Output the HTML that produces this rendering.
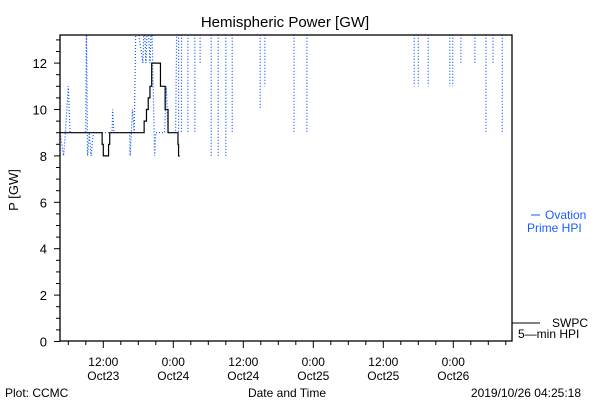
<!DOCTYPE html>
<html><head><meta charset="utf-8"><style>
body{margin:0;background:#fff;}
svg{display:block;font-family:"Liberation Sans",sans-serif;}
</style></head><body>
<svg id="chart" width="600" height="400">
<text x="285" y="27" font-size="15" text-anchor="middle">Hemispheric Power [GW]</text>
<text transform="translate(18,190) rotate(-90)" font-size="13" text-anchor="middle">P [GW]</text>
<text x="5" y="397" font-size="12">Plot: CCMC</text>
<text x="287" y="397" font-size="12" text-anchor="middle">Date and Time</text>
<text x="581" y="397" font-size="12" text-anchor="end">2019/10/26 04:25:18</text>
<defs><clipPath id="clip"><rect x="60" y="35" width="452" height="306"/></clipPath></defs>
<g id="ticks"></g>
<g id="series" clip-path="url(#clip)"></g>
<rect x="60" y="35" width="452" height="306" fill="none" stroke="#000" stroke-width="1.3"/>
<g>
<line x1="531" y1="215" x2="540" y2="215" stroke="#1a5cff" stroke-width="1"/>
<text x="545" y="219" font-size="12" fill="#1a5cff">Ovation</text>
<text x="527" y="232" font-size="12" fill="#1a5cff">Prime HPI</text>
</g>
<g>
<line x1="512" y1="323" x2="540" y2="323" stroke="#000" stroke-width="1"/>
<text x="552" y="327" font-size="12">SWPC</text>
<text x="518" y="338" font-size="12">5—min HPI</text>
</g>
</svg>
<script>
const yTickValues=[0,2,4,6,8,10,12];
const xTickHours=[12,24,36,48,60,72];
const xTickTimes=["12:00","0:00","12:00","0:00","12:00","0:00"];
const xTickDates=["Oct23","Oct24","Oct24","Oct25","Oct25","Oct26"];
const swpcHours=[4.6,11.8,12.0,12.9,13.1,19.0,19.4,19.7,20.0,20.3,21.8,22.6,23.1,24.8,24.9,25.1];
const swpcValues=[9,8.5,8,8.5,9,9.5,10,10.5,11,12,11,10,9,8.5,8,8];
const ovHours=[4.6,5.2,5.5,6.0,6.3,9.0,9.1,9.3,9.6,9.9,10.3,13.5,13.6,13.8,16.5,16.6,17.0,17.3,17.6,18.8,19.0,19.3,19.6,20.0,20.3,20.8,21.0,22.5,22.8,23.1,24.4,24.6];
const ovValues=[9,8,9,11,9,9,14,8,9,8,9,9,10,9,9,8,10,9,14,12,14,12,14,12,14,8,9,9,11,9,9,14];
const dipHours=[24.9,25.4,26.5,27.7,28.6,30.5,31.7,33.0,34.1,38.9,39.7,44.7,46.9,65.3,66.0,67.7,71.4,71.9,73.3,75.7,77.6,78.8,80.4];
const dipLows=[9,9,9,9,12,8,8,8,9,10,11,9,9,11,11,11,11,11,12,12,9,12,9];
const NS="http://www.w3.org/2000/svg";
function X(h){return 33.3+h*70/12;}
function Y(v){return 341.5-v*23.2;}
function mk(tag,attrs,parent){const e=document.createElementNS(NS,tag);for(const k in attrs)e.setAttribute(k,attrs[k]);parent.appendChild(e);return e;}
const tg=document.getElementById('ticks');
for(let v=0;v<=13;v+=0.5){
  const major=yTickValues.includes(v);
  const t=mk('line',{x1:60-(major?6:4),x2:60,y1:Y(v),y2:Y(v),stroke:'#000'},tg);
  
  
}
yTickValues.forEach(v=>{
  const t=mk('text',{x:47,y:Y(v)+5,'font-size':13,'text-anchor':'end'},tg);t.textContent=v;
  
  
});
for(let h=6;X(h)<512;h+=3){
  const major=xTickHours.includes(h);
  const t=mk('line',{x1:X(h),x2:X(h),y1:341,y2:341+(major?7:4),stroke:'#000'},tg);
  
  
}
xTickHours.forEach((h,i)=>{
  const a=mk('text',{x:X(h),y:366,'font-size':12,'text-anchor':'middle'},tg);a.textContent=xTickTimes[i];
  
  
  const b=mk('text',{x:X(h),y:380,'font-size':12,'text-anchor':'middle'},tg);b.textContent=xTickDates[i];
  
  
});
const sg=document.getElementById('series');
let d='';
ovHours.forEach((h,i)=>{d+=(i?'L':'M')+X(h)+','+Y(ovValues[i]);});
const ov=mk('path',{d:d,fill:'none',stroke:'#0a50ff','stroke-width':1.2,'stroke-dasharray':'1 2'},sg);


dipHours.forEach((h,i)=>{
  const l=mk('line',{x1:X(h),x2:X(h),y1:Y(14),y2:Y(dipLows[i]),stroke:'#0a50ff','stroke-width':1.2,'stroke-dasharray':'1 2'},sg);
  
  
});
let s='';
swpcHours.forEach((h,i)=>{
  if(i===0)s+='M'+X(h)+','+Y(swpcValues[i]);
  else s+='H'+X(h)+'V'+Y(swpcValues[i]);
});
const sw=mk('path',{d:s,fill:'none',stroke:'#000','stroke-width':1.2},sg);


</script>
</body></html>
